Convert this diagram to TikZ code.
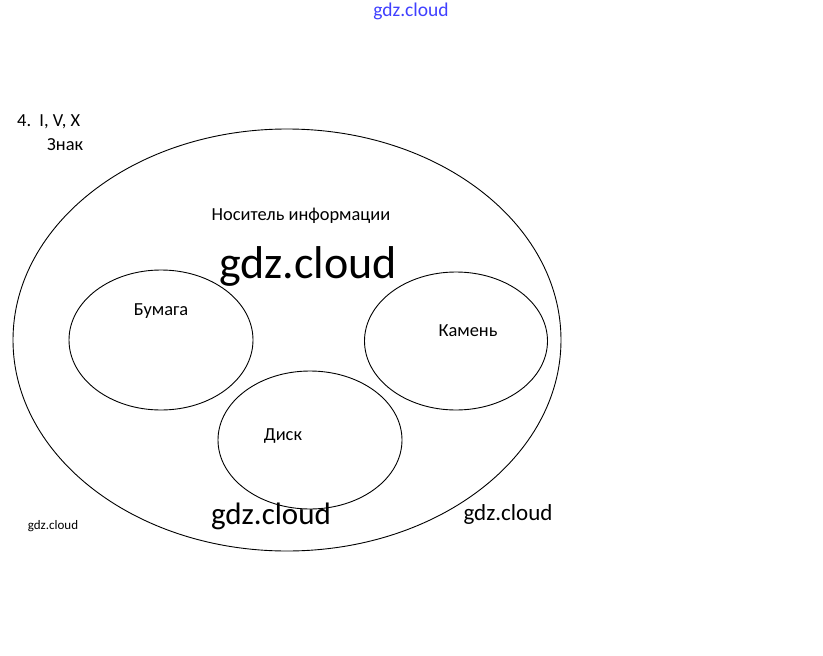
\documentclass[tikz,border=0pt]{standalone}
\usepackage{fontspec}
\setmainfont{Carlito}
\usetikzlibrary{shapes.geometric}

\begin{document}
\begin{tikzpicture}[x=1pt, y=-1pt,
  set/.style={ellipse, draw, line width=0.9pt, inner sep=0pt},
  word/.style={inner sep=0pt, font=\fontsize{18.4}{21}\selectfont},
  sitemark/.style={inner sep=0pt, text=black}]
  \useasboundingbox[fill=white] (0,0) rectangle (823,656);
  % task header
  \node[word, anchor=west] (task) at (17,122) {4.\ \ I, V, X};
  \node[word, anchor=west] (sign) at (47,145) {Знак};
  % outer set and its three parts
  \node[set, minimum width=548pt, minimum height=422pt] (carrier) at (287,340) {};
  \node[set, minimum width=184pt, minimum height=140pt] (paper) at (161,340) {};
  \node[set, minimum width=183pt, minimum height=138pt] (stone) at (456,341) {};
  \node[set, minimum width=184pt, minimum height=138pt] (disk) at (310,440) {};
  % labels
  \node[word] (carrierlbl) at (301,216) {Носитель информации};
  \node[word] (paperlbl) at (161,311) {Бумага};
  \node[word] (stonelbl) at (468,331) {Камень};
  \node[word] (disklbl) at (283,436) {Диск};
  % site marks
  \node[sitemark, text=blue!75, font=\fontsize{19.5}{22}\selectfont] (topmark) at (411,11) {gdz.cloud};
  \node[sitemark, font=\fontsize{46}{50}\selectfont] (bigmark) at (308,266) {gdz.cloud};
  \node[sitemark, font=\fontsize{31}{34}\selectfont] (lowmark) at (271,516) {gdz.cloud};
  \node[sitemark, font=\fontsize{23}{26}\selectfont] (rightmark) at (508,514) {gdz.cloud};
  \node[sitemark, font=\fontsize{13}{15}\selectfont] (leftmark) at (53,526) {gdz.cloud};
\end{tikzpicture}
\end{document}
